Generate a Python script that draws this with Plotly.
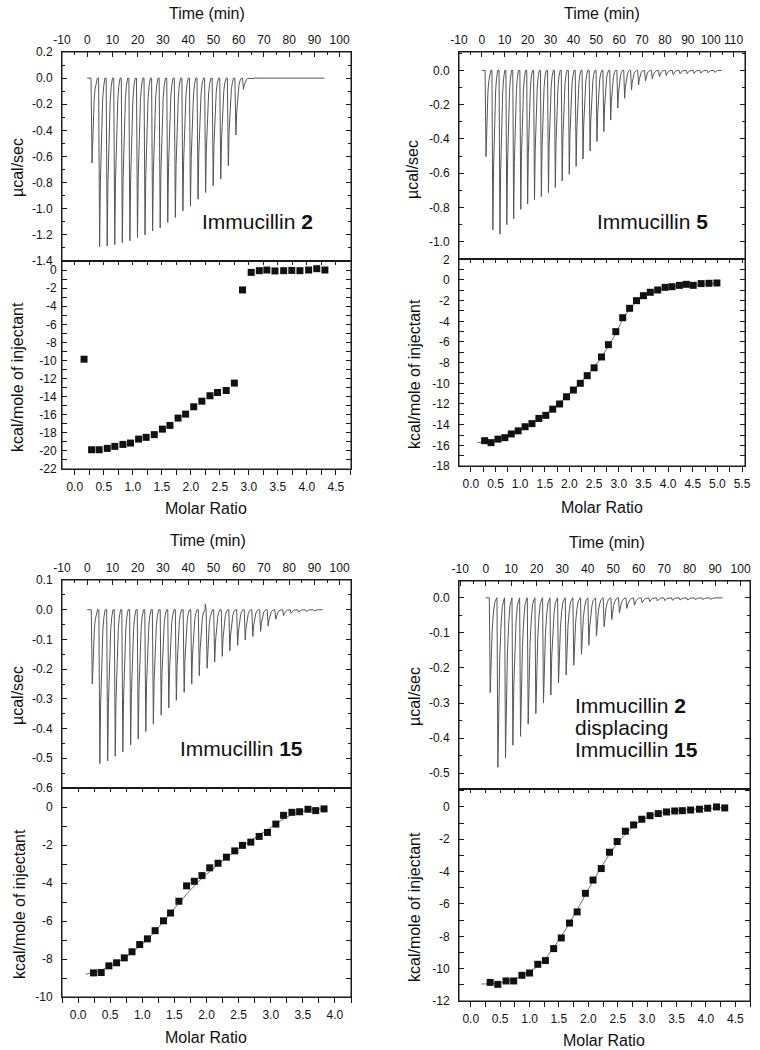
import plotly.graph_objects as go

OFF = 0
W, H = 760, 1050
FONT = "Liberation Sans, Arial, Helvetica, sans-serif"

# ======================= DATA =======================
# --- Panel A: Immucillin 2 ---
A_INJ_TIME = [1.5, 4.5, 7.5, 10.5, 13.5, 16.5, 19.5, 22.5, 25.5, 28.5, 31.5, 34.5, 37.5, 40.5,
              43.5, 46.5, 49.5, 52.5, 55.5, 58.5, 61.5, 64.5, 67.5, 70.5, 73.5, 76.5, 79.5,
              82.5, 85.5, 88.5, 91.5]
A_PEAK = [-0.65, -1.29, -1.285, -1.275, -1.26, -1.245, -1.22, -1.20, -1.17, -1.147, -1.105,
          -1.067, -1.016, -0.978, -0.927, -0.875, -0.824, -0.773, -0.67, -0.435, -0.085,
          -0.004, -0.003, -0.003, -0.002, -0.002, -0.002, -0.002, -0.002, -0.002, -0.002]
A_END = 93.8
A_RATIO = [0.16, 0.29, 0.42, 0.56, 0.69, 0.83, 0.96, 1.10, 1.23, 1.37, 1.51, 1.64, 1.78, 1.91,
           2.05, 2.19, 2.33, 2.46, 2.61, 2.75, 2.89, 3.04, 3.18, 3.31, 3.45, 3.60, 3.74, 3.88,
           4.03, 4.17, 4.31]
A_HEAT = [-9.86, -19.87, -19.87, -19.72, -19.5, -19.28, -19.13, -18.69, -18.5, -18.2, -17.59,
          -17.18, -16.37, -15.93, -15.12, -14.5, -13.9, -13.54, -13.32, -12.5, -2.2, -0.26,
          -0.07, 0.0, -0.1, -0.07, -0.04, -0.07, 0.0, 0.15, 0.0]

# --- Panel B: Immucillin 5 ---
B_INJ_TIME = [1.4, 4.4, 7.5, 10.5, 13.5, 16.6, 19.6, 22.6, 25.6, 28.7, 31.7, 34.7, 37.8, 40.8,
              43.8, 46.9, 49.9, 52.9, 55.9, 59.0, 62.0, 65.0, 68.1, 71.1, 74.1, 77.2, 80.2,
              83.2, 86.2, 89.3, 92.3, 95.3, 98.4, 101.4]
B_PEAK = [-0.503, -0.93, -0.955, -0.90, -0.866, -0.81, -0.78, -0.755, -0.736, -0.713, -0.683,
          -0.645, -0.606, -0.56, -0.517, -0.47, -0.415, -0.357, -0.29, -0.22, -0.163, -0.115,
          -0.085, -0.062, -0.05, -0.037, -0.03, -0.025, -0.02, -0.02, -0.018, -0.016,
          -0.014, -0.012]
B_END = 104.8
B_RATIO = [0.28, 0.41, 0.55, 0.69, 0.82, 0.96, 1.10, 1.24, 1.38, 1.52, 1.66, 1.80, 1.94, 2.08,
           2.22, 2.36, 2.50, 2.65, 2.79, 2.94, 3.08, 3.22, 3.36, 3.50, 3.64, 3.79, 3.94, 4.08,
           4.23, 4.37, 4.51, 4.67, 4.83, 4.99]
B_HEAT = [-15.55, -15.74, -15.4, -15.26, -14.9, -14.6, -14.2, -13.9, -13.4, -13.1, -12.5,
          -12.0, -11.3, -10.65, -10.0, -9.26, -8.5, -7.45, -6.26, -5.0, -3.65, -2.74, -2.0,
          -1.52, -1.19, -0.97, -0.71, -0.65, -0.52, -0.42, -0.52, -0.35, -0.32, -0.29]
B_FIT_X = [0.13, 0.4, 0.7, 1.0, 1.3, 1.6, 1.9, 2.2, 2.5, 2.7, 2.9, 3.05, 3.2, 3.35, 3.5, 3.7,
           3.9, 4.2, 4.6, 5.0]
B_FIT_Y = [-15.75, -15.55, -15.15, -14.5, -13.65, -12.7, -11.45, -10.05, -8.45, -7.1, -5.5,
           -4.1, -2.95, -2.15, -1.6, -1.15, -0.85, -0.6, -0.45, -0.32]

# --- Panel C: Immucillin 15 ---
C_INJ_TIME = [1.6, 4.6, 7.7, 10.7, 13.7, 16.8, 19.8, 22.8, 25.8, 28.9, 31.9, 34.9, 38.0, 41.0,
              44.0, 47.1, 50.1, 53.1, 56.1, 59.2, 62.2, 65.2, 68.3, 71.3, 74.3, 77.4, 80.4,
              83.4, 86.4, 89.5]
C_PEAK = [-0.25, -0.518, -0.509, -0.493, -0.478, -0.455, -0.435, -0.41, -0.385, -0.355,
          -0.33, -0.305, -0.278, -0.25, -0.222, -0.197, -0.176, -0.157, -0.138, -0.12,
          -0.102, -0.09, -0.073, -0.055, -0.032, -0.02, -0.012, -0.008, -0.006, -0.004]
C_BLIP_TIME = [46.8]
C_BLIP_VAL = [0.019]
C_END = 93.3
C_RATIO = [0.24, 0.36, 0.48, 0.60, 0.72, 0.84, 0.96, 1.08, 1.20, 1.33, 1.44, 1.57, 1.69, 1.81,
           1.93, 2.05, 2.18, 2.31, 2.44, 2.56, 2.69, 2.82, 2.95, 3.08, 3.20, 3.33, 3.45, 3.58,
           3.70, 3.83]
C_HEAT = [-8.73, -8.71, -8.36, -8.2, -7.94, -7.62, -7.24, -6.94, -6.51, -5.99, -5.58, -4.96,
          -4.15, -3.91, -3.61, -3.2, -2.96, -2.64, -2.31, -2.02, -1.85, -1.55, -1.34, -0.9,
          -0.44, -0.28, -0.25, -0.12, -0.19, -0.1]
C_FIT_X = [0.12, 0.3, 0.5, 0.7, 0.9, 1.1, 1.3, 1.5, 1.7, 1.9, 2.1, 2.3, 2.5, 2.7, 2.9, 3.1,
           3.3, 3.5, 3.7, 3.83]
C_FIT_Y = [-8.8, -8.65, -8.38, -8.0, -7.5, -6.9, -6.15, -5.35, -4.55, -3.85, -3.25, -2.7,
           -2.2, -1.75, -1.3, -0.85, -0.45, -0.22, -0.12, -0.1]

# --- Panel D: Immucillin 2 displacing Immucillin 15 ---
D_INJ_TIME = [1.4, 4.4, 7.4, 10.3, 13.3, 16.3, 19.3, 22.3, 25.2, 28.2, 31.2, 34.2, 37.2, 40.1,
              43.1, 46.1, 49.1, 52.1, 55.0, 58.0, 61.0, 64.0, 67.0, 69.9, 72.9, 75.9, 78.9,
              81.9, 84.8, 87.8]
D_PEAK = [-0.27, -0.483, -0.457, -0.42, -0.395, -0.36, -0.33, -0.30, -0.277, -0.243, -0.22,
          -0.192, -0.161, -0.135, -0.109, -0.082, -0.062, -0.043, -0.03, -0.021, -0.014,
          -0.011, -0.009, -0.008, -0.007, -0.006, -0.006, -0.005, -0.005, -0.004]
D_END = 93.0
D_RATIO = [0.33, 0.46, 0.60, 0.73, 0.87, 1.00, 1.14, 1.27, 1.41, 1.54, 1.68, 1.81, 1.95, 2.08,
           2.22, 2.36, 2.49, 2.63, 2.77, 2.91, 3.05, 3.19, 3.33, 3.47, 3.60, 3.74, 3.89, 4.03,
           4.18, 4.32]
D_HEAT = [-10.85, -10.97, -10.76, -10.76, -10.41, -10.27, -9.73, -9.5, -8.76, -8.1, -7.18,
          -6.49, -5.34, -4.52, -3.81, -2.8, -2.14, -1.5, -1.11, -0.76, -0.54, -0.41, -0.31,
          -0.25, -0.23, -0.19, -0.14, -0.08, 0.0, -0.06]
D_FIT_X = [0.18, 0.45, 0.7, 0.9, 1.1, 1.25, 1.4, 1.55, 1.7, 1.85, 2.0, 2.15, 2.3, 2.45, 2.6,
           2.75, 2.9, 3.1, 3.4, 3.8, 4.32]
D_FIT_Y = [-10.95, -10.9, -10.7, -10.4, -9.95, -9.45, -8.75, -7.95, -7.05, -6.1, -5.1, -4.15,
           -3.25, -2.45, -1.8, -1.25, -0.85, -0.5, -0.28, -0.14, -0.04]

# peak shape (time after injection in min, fraction of peak depth)
NARROW_DT = [0, 0.4, 0.7, 0.95, 1.25, 1.6, 2.0, 2.5]
NARROW_FR = [0, 1, 0.62, 0.42, 0.25, 0.13, 0.05, 0]
WIDE_DT = [0, 0.35, 0.7, 1.1, 1.6, 2.1, 2.9]
WIDE_FR = [0, 1, 0.6, 0.35, 0.16, 0.05, 0]

# tick values
TIME_TICKS_A = [-10, 0, 10, 20, 30, 40, 50, 60, 70, 80, 90, 100]
TIME_TICKS_B = [-10, 0, 10, 20, 30, 40, 50, 60, 70, 80, 90, 100, 110]
A_Y1_TICKS = [0.2, 0.0, -0.2, -0.4, -0.6, -0.8, -1.0, -1.2, -1.4]
B_Y1_TICKS = [0.0, -0.2, -0.4, -0.6, -0.8, -1.0]
C_Y1_TICKS = [0.1, 0.0, -0.1, -0.2, -0.3, -0.4, -0.5, -0.6]
D_Y1_TICKS = [0.0, -0.1, -0.2, -0.3, -0.4, -0.5]
A_Y2_TICKS = [0, -2, -4, -6, -8, -10, -12, -14, -16, -18, -20, -22]
B_Y2_TICKS = [2, 0, -2, -4, -6, -8, -10, -12, -14, -16, -18]
C_Y2_TICKS = [0, -2, -4, -6, -8, -10]
D_Y2_TICKS = [0, -2, -4, -6, -8, -10, -12]
RATIO_TICKS_45 = [0.0, 0.5, 1.0, 1.5, 2.0, 2.5, 3.0, 3.5, 4.0, 4.5]
RATIO_TICKS_55 = [0.0, 0.5, 1.0, 1.5, 2.0, 2.5, 3.0, 3.5, 4.0, 4.5, 5.0, 5.5]
RATIO_TICKS_40 = [0.0, 0.5, 1.0, 1.5, 2.0, 2.5, 3.0, 3.5, 4.0]


def lab(v, dec):
    return f"{v:.{dec}f}"


def thermogram(times, peaks, t_end, dts, frs, blip_t=(), blip_v=()):
    pts = [(0.0, 0.0)]
    for t, d in zip(times, peaks):
        for dt, f in zip(dts, frs):
            pts.append((t + dt, d * f))
    for t, v in zip(blip_t, blip_v):
        pts += [(t - 0.15, 0.0), (t, v), (t + 0.12, 0.0)]
    pts.append((t_end, 0.0))
    pts.sort(key=lambda p: p[0])
    return [p[0] for p in pts], [p[1] for p in pts]


fig = go.Figure()

TRACE_COL = "#555555"
AX_COL = "#1a1a1a"


def px_x(p):
    return (p - OFF) / W


def px_y(p):
    return 1 - (p - OFF) / H


def axref(letter, n):
    return letter if n == 1 else f"{letter}{n}"


panels = [
    dict(key="A", xl=62, xr=351, yt=52, ym=261, yb=469,
         times=A_INJ_TIME, peaks=A_PEAK, end=A_END, shape="n",
         trange=[-10, 104.5], tticks=TIME_TICKS_A,
         y1range=[-1.4, 0.2], y1ticks=A_Y1_TICKS, y1dec=1, y1minor=0.1,
         ratio=A_RATIO, heat=A_HEAT, fitx=None, fity=None,
         xrange=[-0.22, 4.76], rticks=RATIO_TICKS_45,
         y2range=[-22, 1], y2ticks=A_Y2_TICKS),
    dict(key="B", xl=459, xr=745, yt=52, ym=259, yb=466,
         times=B_INJ_TIME, peaks=B_PEAK, end=B_END, shape="n",
         trange=[-10, 115], tticks=TIME_TICKS_B,
         y1range=[-1.10, 0.107], y1ticks=B_Y1_TICKS, y1dec=1, y1minor=0.1,
         ratio=B_RATIO, heat=B_HEAT, fitx=B_FIT_X, fity=B_FIT_Y,
         xrange=[-0.24, 5.56], rticks=RATIO_TICKS_55,
         y2range=[-18, 2.03], y2ticks=B_Y2_TICKS),
    dict(key="C", xl=62, xr=351, yt=580, ym=788, yb=997,
         times=C_INJ_TIME, peaks=C_PEAK, end=C_END, shape="n",
         blip_t=C_BLIP_TIME, blip_v=C_BLIP_VAL,
         trange=[-10, 104.5], tticks=TIME_TICKS_A,
         y1range=[-0.6, 0.1], y1ticks=C_Y1_TICKS, y1dec=1, y1minor=0.05,
         ratio=C_RATIO, heat=C_HEAT, fitx=C_FIT_X, fity=C_FIT_Y,
         xrange=[-0.25, 4.25], rticks=RATIO_TICKS_40,
         y2range=[-10, 1.0], y2ticks=C_Y2_TICKS),
    dict(key="D", xl=459, xr=750, yt=581, ym=789, yb=1001,
         times=D_INJ_TIME, peaks=D_PEAK, end=D_END, shape="w",
         trange=[-10.5, 103.7], tticks=TIME_TICKS_A,
         y1range=[-0.545, 0.048], y1ticks=D_Y1_TICKS, y1dec=1, y1minor=0.05,
         ratio=D_RATIO, heat=D_HEAT, fitx=D_FIT_X, fity=D_FIT_Y,
         xrange=[-0.2, 4.75], rticks=RATIO_TICKS_45,
         y2range=[-12, 1.11], y2ticks=D_Y2_TICKS),
]

layout = {}
shapes = []
tickfont = dict(family=FONT, size=12, color="#111")

for i, p in enumerate(panels):
    n_top = 2 * i + 1
    n_bot = 2 * i + 2
    n_ov = 9 + i
    xd = [px_x(p["xl"]), px_x(p["xr"])]

    dts, frs = (NARROW_DT, NARROW_FR) if p["shape"] == "n" else (WIDE_DT, WIDE_FR)
    tx, ty = thermogram(p["times"], p["peaks"], p["end"], dts, frs,
                        p.get("blip_t", ()), p.get("blip_v", ()))
    fig.add_trace(go.Scatter(x=tx, y=ty, mode="lines",
                             line=dict(color=TRACE_COL, width=1),
                             xaxis=axref("x", n_top), yaxis=axref("y", n_top),
                             showlegend=False, hoverinfo="skip"))
    if p["fitx"] is not None:
        fig.add_trace(go.Scatter(x=p["fitx"], y=p["fity"], mode="lines",
                                 line=dict(color="#6e6e6e", width=1, shape="spline"),
                                 xaxis=f"x{n_bot}", yaxis=f"y{n_bot}", showlegend=False))
    fig.add_trace(go.Scatter(x=p["ratio"], y=p["heat"], mode="markers",
                             marker=dict(symbol="square", size=7, color="#111111",
                                         line=dict(width=0)),
                             xaxis=f"x{n_bot}", yaxis=f"y{n_bot}", showlegend=False))
    fig.add_trace(go.Scatter(x=[], y=[], xaxis=f"x{n_ov}", yaxis=f"y{n_bot}",
                             showlegend=False))

    common = dict(showline=True, linecolor=AX_COL, linewidth=1, showgrid=False,
                  zeroline=False, tickcolor=AX_COL, tickwidth=1, tickfont=tickfont,
                  automargin=False)

    layout[f"xaxis{n_top}"] = dict(
        domain=xd, anchor=axref("y", n_top), side="top", range=p["trange"],
        ticks="inside", ticklen=5, mirror=True,
        tickmode="array", tickvals=p["tticks"], ticktext=[lab(v, 0) for v in p["tticks"]],
        minor=dict(ticks="inside", ticklen=3, dtick=5, tick0=0, tickcolor=AX_COL),
        ticklabelstandoff=2, **common)
    layout[f"yaxis{n_top}"] = dict(
        domain=[px_y(p["ym"]), px_y(p["yt"])], anchor=axref("x", n_top), range=p["y1range"],
        ticks="inside", ticklen=5, mirror="allticks",
        tickmode="array", tickvals=p["y1ticks"],
        ticktext=[lab(v, p["y1dec"]) for v in p["y1ticks"]],
        minor=dict(ticks="inside", ticklen=3, dtick=p["y1minor"], tick0=0, tickcolor=AX_COL),
        ticklabelstandoff=6, **common)

    layout[f"xaxis{n_bot}"] = dict(
        domain=xd, anchor=f"y{n_bot}", side="bottom", range=p["xrange"],
        ticks="outside", ticklen=5, mirror=True,
        tickmode="array", tickvals=p["rticks"], ticktext=[lab(v, 1) for v in p["rticks"]],
        minor=dict(ticks="outside", ticklen=5, dtick=0.25, tick0=0, tickcolor=AX_COL),
        ticklabelstandoff=2, **common)
    layout[f"xaxis{n_ov}"] = dict(
        overlaying=f"x{n_bot}", anchor=f"y{n_bot}", side="top", range=p["xrange"],
        ticks="inside", ticklen=4, showticklabels=False, showline=False,
        showgrid=False, zeroline=False, tickcolor=AX_COL, dtick=0.25, tick0=0,
        automargin=False)
    layout[f"yaxis{n_bot}"] = dict(
        domain=[px_y(p["yb"]), px_y(p["ym"])], anchor=f"x{n_bot}", range=p["y2range"],
        ticks="inside", ticklen=5, mirror="allticks",
        tickmode="array", tickvals=p["y2ticks"], ticktext=[lab(v, 0) for v in p["y2ticks"]],
        minor=dict(ticks="inside", ticklen=3, dtick=1, tick0=0, tickcolor=AX_COL),
        ticklabelstandoff=6 if p["key"] != "A" else 2, **common)

    for n in (n_top, n_bot):
        shapes.append(dict(type="rect", xref=axref("x", n) + " domain",
                           yref=axref("y", n) + " domain",
                           x0=0, x1=1, y0=0, y1=1, layer="above",
                           line=dict(color=AX_COL, width=1), fillcolor="rgba(0,0,0,0)"))

ann = []


def text(x, y, s, size=16, angle=0, xanchor="center"):
    ann.append(dict(x=px_x(x), y=px_y(y), xref="paper", yref="paper", text=s,
                    showarrow=False, textangle=angle, xanchor=xanchor, yanchor="middle",
                    font=dict(family=FONT, size=size, color="#111")))


for (tx_, ty_) in [(207, 13), (602, 13), (208, 540), (607, 542)]:
    text(tx_, ty_, "Time (min)")
for (mx, my) in [(206, 509), (602, 507), (206, 1037), (604, 1040)]:
    text(mx, my, "Molar Ratio")
for (ux, uy) in [(17, 168), (413, 170), (17, 696), (414, 697)]:
    text(ux, uy, "µcal/sec", angle=-90)
for (kx, ky) in [(17, 377), (414, 374), (19, 904), (414, 907)]:
    text(kx, ky, "kcal/mole of injectant", angle=-90)

text(257, 221, "Immucillin <b>2</b>", size=21)
text(652, 221, "Immucillin <b>5</b>", size=21)
text(241, 748, "Immucillin <b>15</b>", size=21)
text(573, 705, "Immucillin <b>2</b>", size=21, xanchor="left")
text(573, 727, "displacing", size=21, xanchor="left")
text(573, 749, "Immucillin <b>15</b>", size=21, xanchor="left")

fig.update_layout(
    template="none",
    width=W, height=H, margin=dict(l=0, r=0, t=0, b=0, pad=0),
    paper_bgcolor="white", plot_bgcolor="rgba(0,0,0,0)",
    font=dict(family=FONT, size=12, color="#111"),
    annotations=ann, shapes=shapes, showlegend=False, **layout)

# remove the default 8 px page margin so the 760x1050 figure fills the window
fig.write_html("out.html",
               config={"displayModeBar": False},
               post_script="document.body.style.margin='0px';"
                           "document.body.style.overflow='hidden';")
